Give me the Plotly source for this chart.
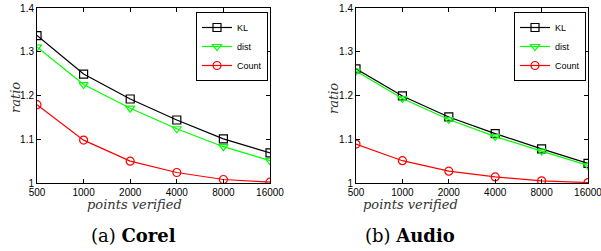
import plotly.graph_objects as go

points = [500, 1000, 2000, 4000, 8000, 16000]
tick_labels = ["500", "1000", "2000", "4000", "8000", "16000"]
y_ticks = [1, 1.1, 1.2, 1.3, 1.4]
y_tick_labels = ["1", "1.1", "1.2", "1.3", "1.4"]

corel_kl = [1.337, 1.249, 1.192, 1.144, 1.101, 1.069]
corel_dist = [1.311, 1.225, 1.171, 1.124, 1.083, 1.051]
corel_count = [1.179, 1.098, 1.050, 1.024, 1.008, 1.002]

audio_kl = [1.261, 1.199, 1.151, 1.113, 1.078, 1.045]
audio_dist = [1.256, 1.193, 1.145, 1.106, 1.073, 1.040]
audio_count = [1.089, 1.051, 1.027, 1.014, 1.005, 1.001]

series_names = ["KL", "dist", "Count"]
colors = ["#000000", "#00ff00", "#ff0000"]
symbols = ["square-open", "triangle-down-open", "circle-open"]

fig = go.Figure()
panels = [
    ([corel_kl, corel_dist, corel_count], "x", "y", "legend"),
    ([audio_kl, audio_dist, audio_count], "x2", "y2", "legend2"),
]
for data, xa, ya, lg in panels:
    for name, vals, c, s in zip(series_names, data, colors, symbols):
        fig.add_trace(go.Scatter(
            x=points, y=vals, name=name, mode="lines+markers",
            line=dict(color=c, width=1.2),
            marker=dict(symbol=s, size=8, color=c, line=dict(color=c, width=1.2)),
            xaxis=xa, yaxis=ya, legend=lg,
        ))

W, H = 601, 251
def fx(px):
    return px / W
def fy(py):
    return 1 - py / H

axis_font = dict(family="Liberation Sans, Arial, sans-serif", size=10, color="#000")
xcommon = dict(type="log", range=[2.69897, 4.20412], tickvals=points, ticktext=tick_labels,
               ticks="inside", ticklen=4, tickcolor="#000", mirror="ticks", showline=True,
               linecolor="#000", linewidth=1, showgrid=False, zeroline=False,
               tickfont=axis_font, automargin=False, ticklabeloverflow="allow")
ycommon = dict(range=[1, 1.4], tickvals=y_ticks, ticktext=y_tick_labels,
               ticks="inside", ticklen=4, tickcolor="#000", mirror="ticks", showline=True,
               linecolor="#000", linewidth=1, showgrid=False, zeroline=False,
               tickfont=axis_font, automargin=False, ticklabeloverflow="allow")

legend_common = dict(bgcolor="#fff", bordercolor="#000", borderwidth=1,
                     font=dict(family="Liberation Sans, Arial, sans-serif", size=9, color="#000"),
                     xanchor="right", yanchor="top", itemwidth=30, tracegroupgap=0,
                     itemsizing="trace")

fig.update_layout(
    width=W, height=H,
    margin=dict(l=0, r=0, t=0, b=0, autoexpand=False),
    paper_bgcolor="#fff", plot_bgcolor="#fff",
    showlegend=True,
    xaxis=dict(domain=[fx(37), fx(270)], anchor="y", **xcommon),
    yaxis=dict(domain=[fy(183), fy(8)], anchor="x", **ycommon),
    xaxis2=dict(domain=[fx(356), fx(588)], anchor="y2", **xcommon),
    yaxis2=dict(domain=[fy(183), fy(8)], anchor="x2", **ycommon),
    legend=dict(x=fx(268), y=fy(12), **legend_common),
    legend2=dict(x=fx(586), y=fy(12), **legend_common),
)

serif_it = dict(family="DejaVu Serif, serif", size=13, color="#333")
cap_font = dict(family="DejaVu Serif, serif", size=18, color="#000")
annots = [
    dict(x=fx(15), y=fy(98), text="<i>ratio</i>", textangle=-90, font=serif_it),
    dict(x=fx(333), y=fy(98), text="<i>ratio</i>", textangle=-90, font=serif_it),
    dict(x=fx(134), y=fy(204), text="<i>points verified</i>", font=serif_it),
    dict(x=fx(411), y=fy(204), text="<i>points verified</i>", font=serif_it),
    dict(x=fx(133), y=fy(235), text="(a) <b>Corel</b>", font=cap_font),
    dict(x=fx(410), y=fy(235), text="(b) <b>Audio</b>", font=cap_font),
]
for a in annots:
    fig.add_annotation(xref="paper", yref="paper", showarrow=False,
                       xanchor="center", yanchor="middle", **a)

fig.write_html("out.html", config={"displayModeBar": False},
               post_script="document.body.style.margin='0';")
